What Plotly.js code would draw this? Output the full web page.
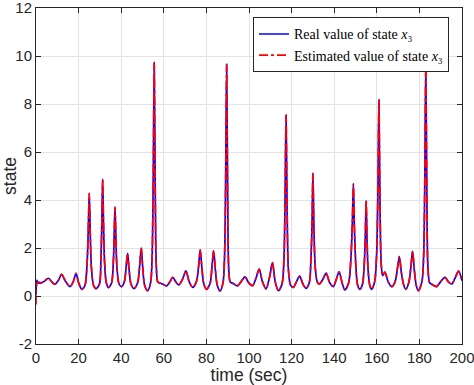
<!DOCTYPE html>
<html>
<head>
<meta charset="utf-8">
<script src="https://cdn.plot.ly/plotly-3.0.1.min.js"></script>
<style>html,body{margin:0;padding:0;background:#fff;}#chart{width:474px;height:385px;}</style>
</head>
<body>
<div id="chart"></div>
<script>
// time samples (sec)
const timeSec = [
  0, 0.4, 1, 2.5, 4, 5.8, 7.5, 8.9, 10.5, 12, 13.8, 16, 17.5, 18.8, 20, 21.5,
  23, 24, 24.5, 25, 25.5, 26, 27, 28.2,
  29.8, 30.5, 30.9, 31.3, 31.7, 32.2, 33, 34,
  35.5, 36.3, 36.7, 37.1, 37.5, 38, 39, 40.2,
  41.5, 42.3, 43, 43.7, 44.6, 46,
  47.7, 48.7, 49.4, 50.1, 51, 52.4,
  53.8, 54.5, 55, 55.5, 56, 56.5, 57.2, 58.5, 59.7, 61.3,
  62.8, 64.2, 65.7, 67.1, 68.8, 70.4, 71.9, 73.6,
  75.3, 76.3, 77.1, 77.9, 78.8, 80.1,
  81.8, 82.6, 83.4, 84.2, 85.1, 86.4,
  87.8, 88.5, 89, 89.5, 90, 90.5, 91.2, 92.6, 94.5,
  96.3, 98.1, 99.9, 101.7, 103.3, 104.8, 106.3, 108,
  109.7, 111, 112.3, 113.8,
  115.5, 116.4, 116.9, 117.4, 117.9, 118.5, 119.5, 120.8,
  122.3, 123.8, 125.3, 126.8,
  128.3, 129.1, 129.6, 130, 130.5, 131.1, 132, 133,
  134.7, 136.2, 137.9, 139.6, 141, 142.3, 143.7, 145,
  146.8, 147.8, 148.5, 149, 149.5, 150.2, 151, 152.1,
  153.3, 154.1, 154.6, 155, 155.4, 155.9, 156.7, 157.6,
  159, 159.9, 160.5, 161, 161.5, 162.1, 162.8, 163.8, 165.3, 167,
  168.6, 169.7, 170.6, 171.5, 172.5, 173.6,
  175, 176, 176.8, 177.6, 178.5, 179.5,
  181.2, 182, 182.5, 183, 183.5, 184, 184.8, 185.8, 188,
  190, 192, 193.7, 195.2, 197, 198.4, 200
];

// real value of state x3
const x3Real = [
  0.05, 0.65, 0.55, 0.55, 0.62, 0.74, 0.58, 0.49, 0.65, 0.9, 0.62, 0.39, 0.6, 0.94, 0.55, 0.28,
  0.45, 1.4, 2.6, 4.28, 2.5, 1.2, 0.45, 0.31,
  0.5, 1.6, 3.0, 4.87, 3.0, 1.4, 0.55, 0.35,
  0.55, 1.4, 2.5, 3.7, 2.4, 1.2, 0.5, 0.39,
  0.6, 1.2, 1.78, 1.1, 0.5, 0.31,
  0.55, 1.3, 2.01, 1.2, 0.45, 0.22,
  0.55, 1.6, 4.5, 9.72, 4.2, 1.2, 0.58, 0.53, 0.49, 0.42,
  0.58, 0.78, 0.58, 0.46, 0.7, 1.05, 0.6, 0.36,
  0.6, 1.2, 1.92, 1.15, 0.5, 0.28,
  0.55, 1.2, 1.89, 1.1, 0.45, 0.21,
  0.55, 1.6, 4.5, 9.65, 4.0, 1.1, 0.58, 0.52, 0.42,
  0.6, 0.8, 0.55, 0.43, 0.75, 1.12, 0.6, 0.3,
  0.8, 1.39, 0.6, 0.22,
  0.5, 1.5, 3.8, 7.54, 3.5, 1.1, 0.45, 0.36,
  0.6, 0.83, 0.5, 0.32,
  0.55, 1.6, 3.0, 5.11, 2.8, 1.2, 0.6, 0.49,
  0.7, 0.95, 0.55, 0.39, 0.7, 1.01, 0.55, 0.25,
  0.55, 1.5, 3.0, 4.67, 2.8, 1.2, 0.45, 0.28,
  0.5, 1.3, 2.5, 3.97, 2.4, 1.1, 0.45, 0.28,
  0.6, 1.7, 4.2, 8.17, 3.8, 1.3, 0.85, 1.0, 0.6, 0.39,
  0.6, 1.15, 1.64, 1.0, 0.5, 0.28,
  0.55, 1.2, 1.87, 1.1, 0.45, 0.22,
  0.6, 1.7, 4.5, 9.65, 4.2, 1.2, 0.55, 0.49, 0.39,
  0.6, 0.78, 0.58, 0.5, 0.8, 1.04, 0.64
];

// estimated value of state x3: differs from the real one only in the first samples
const x3EstStart = [-0.35, 0.5, 0.58];

const xTicks = [0, 20, 40, 60, 80, 100, 120, 140, 160, 180, 200];
const yTicks = [-2, 0, 2, 4, 6, 8, 10, 12];

const x3Est = x3EstStart.concat(x3Real.slice(x3EstStart.length));

const axisColor = '#262626';
const gridColor = '#e3e3e3';

const traces = [
  {
    x: timeSec, y: x3Real, type: 'scatter', mode: 'lines',
    name: 'Real value of state <i>x</i>₃',
    line: {color: '#0000ff', width: 1.7, shape: 'spline', smoothing: 0.8}
  },
  {
    x: timeSec, y: x3Est, type: 'scatter', mode: 'lines',
    name: 'Estimated value of state <i>x</i>₃',
    line: {color: '#ff0000', width: 1.7, dash: 'dashdot', shape: 'spline', smoothing: 0.8}
  }
];

const axisCommon = {
  showline: true, linecolor: axisColor, linewidth: 1, mirror: 'ticks',
  ticks: 'inside', ticklen: 5, tickwidth: 1, tickcolor: axisColor,
  showgrid: true, gridcolor: gridColor, gridwidth: 1, zeroline: false,
  tickfont: {family: 'Liberation Sans, Arial, sans-serif', size: 15, color: axisColor},
  ticklabeloverflow: 'allow',
  automargin: false
};

const layout = {
  width: 474, height: 385,
  margin: {l: 36, r: 12, t: 8, b: 41, pad: 0},
  paper_bgcolor: '#ffffff', plot_bgcolor: '#ffffff',
  showlegend: true,
  legend: {
    x: 0.9695, y: 0.972, xanchor: 'right', yanchor: 'top',
    bgcolor: '#ffffff', bordercolor: axisColor, borderwidth: 1,
    font: {family: 'Liberation Serif, DejaVu Serif, serif', size: 14, color: '#000000'},
    tracegroupgap: 0, itemwidth: 30
  },
  xaxis: Object.assign({}, axisCommon, {
    range: [0, 200], tickvals: xTicks, ticktext: xTicks.map(String),
    title: {text: 'time (sec)', font: {family: 'Liberation Sans, Arial, sans-serif', size: 17.5, color: axisColor}, standoff: 4}
  }),
  yaxis: Object.assign({}, axisCommon, {
    range: [-2, 12], tickvals: yTicks, ticktext: yTicks.map(String),
    title: {text: 'state', font: {family: 'Liberation Sans, Arial, sans-serif', size: 17.5, color: axisColor}, standoff: 4}
  })
};

Plotly.newPlot('chart', traces, layout, {displayModeBar: false, staticPlot: true});
</script>
</body>
</html>
